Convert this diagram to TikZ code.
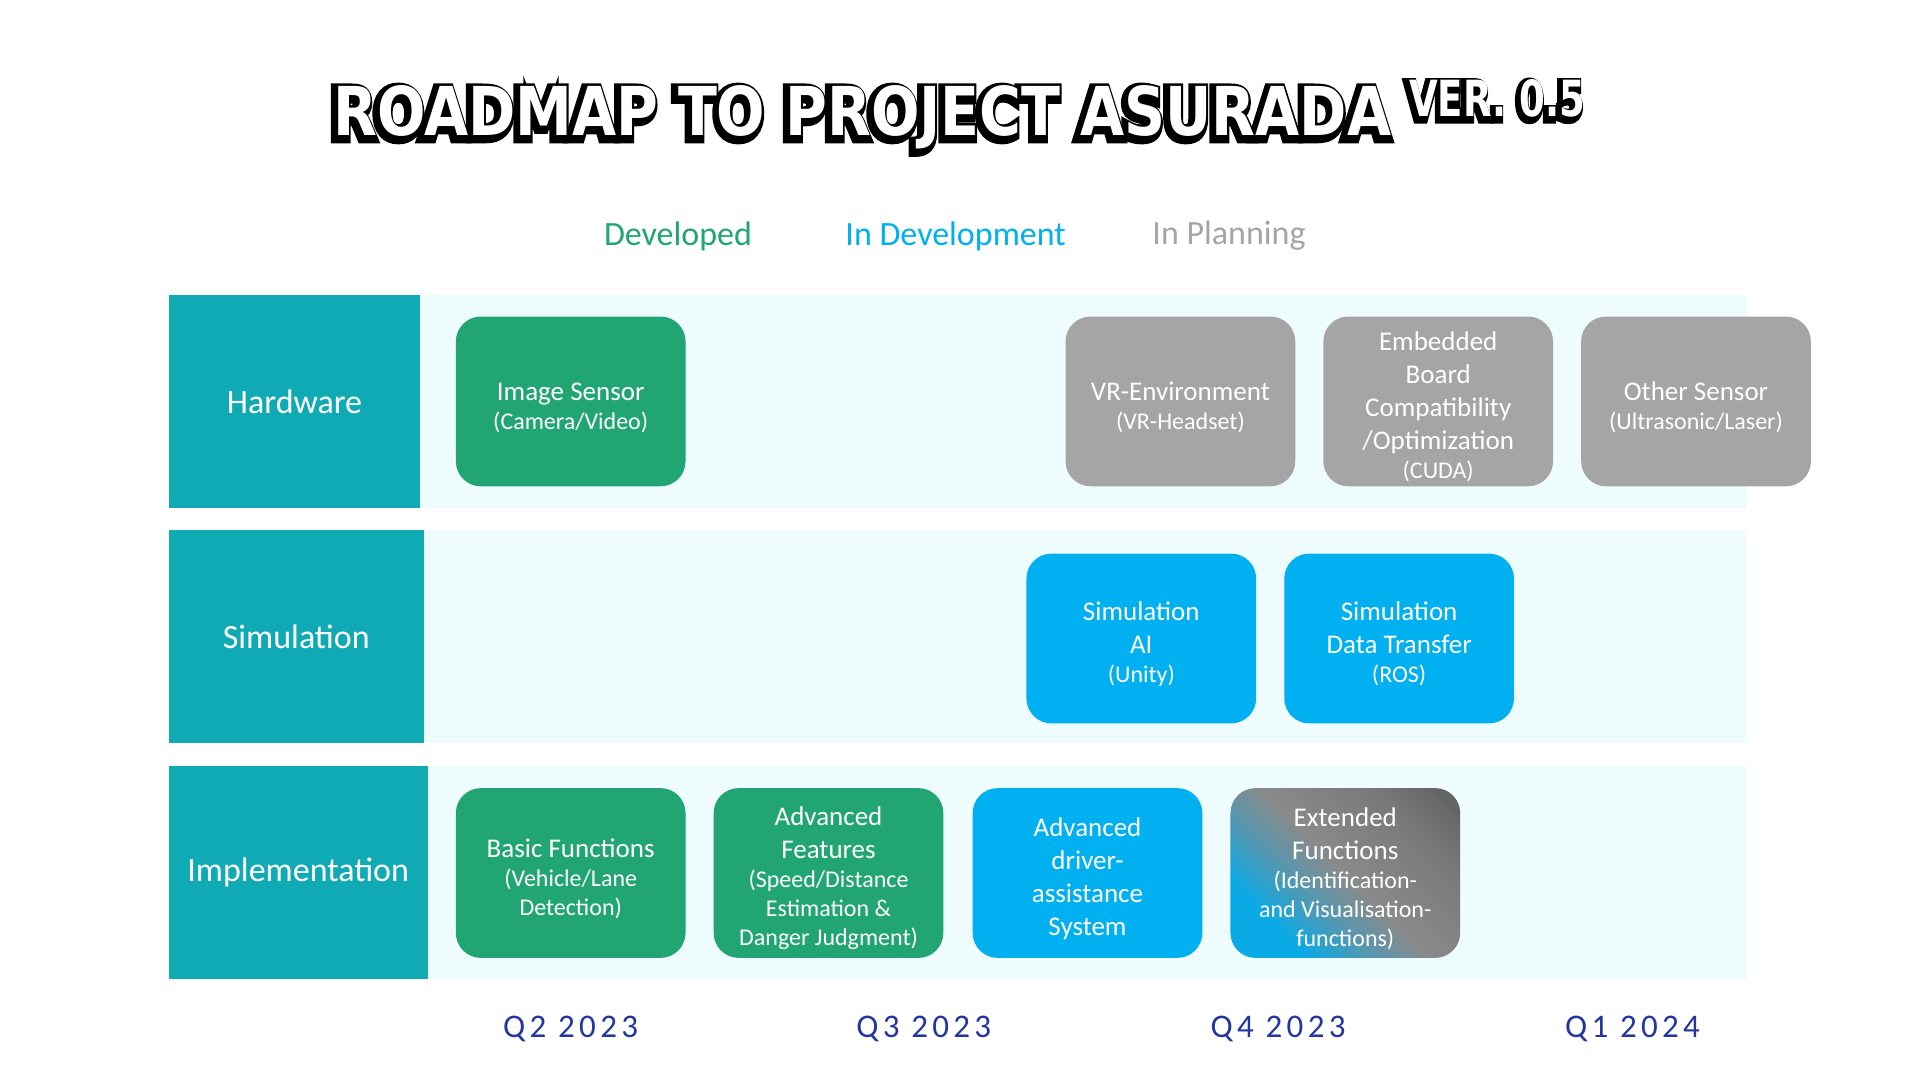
\documentclass[tikz,border=0pt]{standalone}
\usepackage{fontspec}
\usepackage{graphicx}
\usetikzlibrary{calc}
\setmainfont{Carlito}
\newfontfamily\titlefont{DejaVu Sans}
\newfontfamily\qfont[LetterSpace=13]{Carlito}
\definecolor{teallab}{HTML}{10AAB5}
\definecolor{bandc}{HTML}{EEFCFD}
\definecolor{devgreen}{HTML}{21A573}
\definecolor{devblue}{HTML}{00B0F0}
\definecolor{plangray}{HTML}{A5A5A5}
\definecolor{qblue}{HTML}{2335A0}
\definecolor{gmid}{HTML}{8A8A8A}
\definecolor{gdark}{HTML}{5E5E5E}
\definecolor{gblue}{HTML}{0AAAE6}
\pgfdeclarehorizontalshading{extgrad}{100bp}{color(0bp)=(gblue); color(28bp)=(gblue); color(40bp)=(gblue!40!gmid); color(50bp)=(gmid); color(70bp)=(gmid!60!gdark); color(85bp)=(gdark); color(100bp)=(gdark)}
\newcommand{\mainfs}{\fontsize{27}{33}\selectfont}
\newcommand{\subfs}{\fontsize{24}{29}\selectfont}
\newcommand{\tpad}{\rule{0pt}{30pt}}
\newcommand{\outl}[2]{\special{pdf:literal direct 2 Tr #1 w 0 G}#2\special{pdf:literal direct 0 Tr 1 w}}
\newcommand{\titlestr}{ROADMAP TO PROJECT ASURADA}
\newcommand{\verstr}{VER. 0.5}
\begin{document}
\begin{tikzpicture}[x=1pt,y=-1pt,
  band/.style={fill=bandc, draw=none, minimum width=1578.7pt, inner sep=0pt},
  rowlabel/.style={fill=teallab, text=white, inner sep=0pt, font=\fontsize{34}{40}\selectfont},
  item/.style={rounded corners=25pt, minimum width=229.7pt, minimum height=169.8pt, text=white, align=center, inner sep=0pt, font=\mainfs},
  green item/.style={item, fill=devgreen},
  blue item/.style={item, fill=devblue},
  gray item/.style={item, fill=plangray},
  grad item/.style={item, shading=extgrad, shading angle=45},
  legend/.style={font=\fontsize{34}{40}\selectfont, inner sep=0pt},
  quarter/.style={font=\qfont\fontsize{33}{38}\selectfont, text=qblue, inner sep=0pt},
  titlestyle/.style={inner sep=0pt, anchor=base west},
]
\useasboundingbox[fill=white] (0,0) rectangle (1916,1076);

% ---------- title ----------
\node[titlestyle, text=black] (tshadow) at (330,138) {\resizebox{1058pt}{50pt}{\titlefont\bfseries\outl{1.6}{\titlestr}}};
\node[titlestyle, text=white] (title) at (333,135) {\resizebox{1058pt}{50pt}{\titlefont\bfseries\titlestr}};
\node[titlestyle, text=black] (vshadow) at (1406,119) {\resizebox{176pt}{37pt}{\titlefont\bfseries\outl{1.8}{\verstr}}};
\node[titlestyle, text=white] (ver) at (1409,116) {\resizebox{176pt}{37pt}{\titlefont\bfseries\verstr}};

% ---------- legend ----------
\node[legend, text=devgreen] (lgdev) at (678,236) {Developed};
\node[legend, text=devblue] (lgindev) at (955.6,236) {In Development};
\node[legend, text=plangray] (lgplan) at (1229,236) {In Planning};

% ---------- rows ----------
\node[band, minimum height=213.8pt] (hwband) at (958,401.4) {};
\node[band, minimum height=212.6pt] (simband) at (958,636.6) {};
\node[band, minimum height=212.6pt] (impband) at (958,872.4) {};

\node[rowlabel, minimum width=251.7pt, minimum height=213.8pt] (hw) at (294.5,401.4) {Hardware};
\node[rowlabel, minimum width=255.4pt, minimum height=212.6pt] (sim) at (296.3,636.6) {Simulation};
\node[rowlabel, minimum width=259.1pt, minimum height=212.6pt] (imp) at (298.2,872.4) {Implementation};

% ---------- hardware items ----------
\node[green item] (imgsens) at (570.7,401.4) {\tpad Image Sensor\\[-4pt]{\subfs (Camera/Video)}};
\node[gray item] (vrenv) at (1180.4,401.4) {\tpad VR-Environment\\[-4pt]{\subfs (VR-Headset)}};
\node[gray item] (embed) at (1438.2,401.4) {\tpad Embedded\\Board\\Compatibility\\/Optimization\\[-4pt]{\subfs (CUDA)}};
\node[gray item] (other) at (1696,401.4) {\tpad Other Sensor\\[-4pt]{\subfs (Ultrasonic/Laser)}};

% ---------- simulation items ----------
\node[blue item] (simai) at (1141.3,638.5) {\tpad Simulation\\AI\\[-4pt]{\subfs (Unity)}};
\node[blue item] (simdt) at (1399.1,638.5) {\tpad Simulation\\Data Transfer\\[-4pt]{\subfs (ROS)}};

% ---------- implementation items ----------
\node[green item] (basic) at (570.7,873) {\tpad Basic Functions\\[-4pt]{\subfs (Vehicle/Lane}\\[-4pt]{\subfs Detection)}};
\node[green item] (advf) at (828.5,873) {\tpad Advanced\\Features\\[-4pt]{\subfs (Speed/Distance}\\[-4pt]{\subfs Estimation \&}\\[-4pt]{\subfs Danger Judgment)}};
\node[blue item] (adas) at (1087.5,873) {\tpad Advanced\\driver-\\assistance\\System};
\node[grad item] (ext) at (1345.3,873) {\tpad Extended\\Functions\\[-4pt]{\subfs (Identification-}\\[-4pt]{\subfs and Visualisation-}\\[-4pt]{\subfs functions)}};

% ---------- quarters ----------
\node[quarter] (q2) at (570.6,1029) {Q2 2023};
\node[quarter] (q3) at (923.7,1029) {Q3 2023};
\node[quarter] (q4) at (1278.1,1029) {Q4 2023};
\node[quarter] (q1) at (1632.5,1029) {Q1 2024};
\end{tikzpicture}
\end{document}
